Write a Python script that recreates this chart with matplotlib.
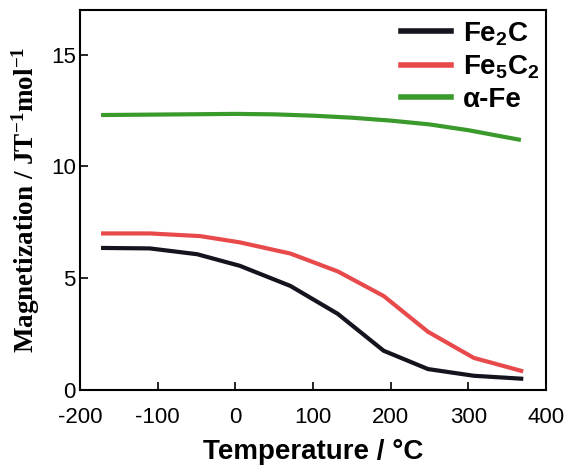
import numpy as np
import matplotlib.pyplot as plt

plt.rcParams['axes.unicode_minus'] = False
plt.rcParams['mathtext.fontset'] = 'custom'
plt.rcParams['mathtext.rm'] = 'Liberation Sans:bold'
plt.rcParams['mathtext.bf'] = 'Liberation Serif:bold'
plt.rcParams['font.family'] = 'Liberation Sans'

# data
t_fe = [-170, -100, 0, 50, 100, 150, 200, 250, 300, 365]
m_fe = [12.3, 12.32, 12.35, 12.33, 12.27, 12.18, 12.05, 11.88, 11.62, 11.2]

t_c5 = [-170, -110, -45, 6, 71, 132, 191, 248, 307, 368]
m_c5 = [7.0, 7.0, 6.88, 6.6, 6.1, 5.3, 4.2, 2.6, 1.43, 0.85]

t_c2 = [-170, -110, -49, 6, 71, 132, 191, 248, 307, 368]
m_c2 = [6.35, 6.33, 6.07, 5.55, 4.65, 3.4, 1.75, 0.93, 0.63, 0.5]

fig = plt.figure(figsize=(5.7, 4.76), dpi=100)
ax = fig.add_axes([0.14, 0.181, 0.818, 0.798])

ax.plot(t_c2, m_c2, color='#14141f', lw=3, label='Fe$_2$C')
ax.plot(t_c5, m_c5, color='#e84a4c', lw=3, label='Fe$_5$C$_2$')
ax.plot(t_fe, m_fe, color='#3a9a2c', lw=3, label='α-Fe')

ax.set_xlim(-200, 400)
ax.set_ylim(0, 17)
ax.set_xticks([-200, -100, 0, 100, 200, 300, 400])
ax.set_yticks([0, 5, 10, 15])
ax.tick_params(direction='in', length=6, width=1.2, labelsize=16)
ax.tick_params(axis='x', pad=12)
ax.tick_params(axis='y', pad=3)
for s in ax.spines.values():
    s.set_linewidth(1.5)

ax.set_xlabel('Temperature / °C', fontsize=20, fontweight='bold', labelpad=8)
ax.set_ylabel('Magnetization / JT$\\mathbf{^{-1}}$mol$\\mathbf{^{-1}}$', fontsize=19.5,
              fontweight='bold', family='Liberation Serif', labelpad=6)

leg = ax.legend(loc='upper right', frameon=False, handlelength=1.8,
                prop={'weight': 'bold', 'size': 20},
                bbox_to_anchor=(1.015, 1.01),
                borderaxespad=0.1, labelspacing=0.2, handletextpad=0.4)
for h in leg.legend_handles:
    h.set_linewidth(4)

fig.savefig('out.png', dpi=100)
